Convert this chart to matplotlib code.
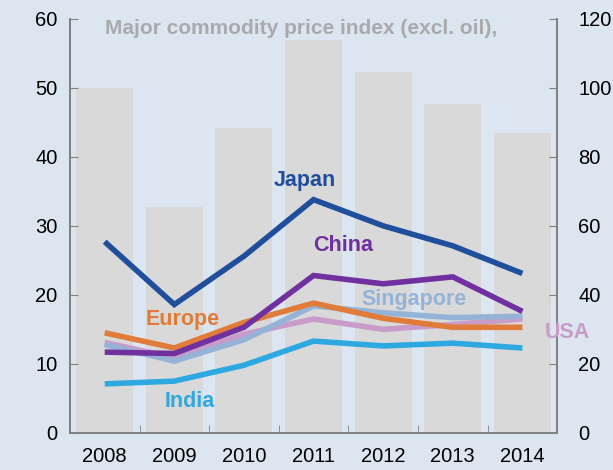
import numpy as np
import matplotlib
matplotlib.use("Agg")
import matplotlib.pyplot as plt
plt.rcParams["font.family"] = ["Liberation Sans", "DejaVu Sans"]

years = ["2008", "2009", "2010", "2011", "2012", "2013", "2014"]
commodity_index = [100, 65.5, 88.4, 114, 104.6, 95.4, 87]   # right axis

japan = [27.7, 18.6, 25.6, 33.8, 30.0, 27.1, 23.1]
china = [11.7, 11.5, 15.3, 22.8, 21.6, 22.6, 17.6]
singapore = [12.8, 10.4, 13.5, 18.4, 17.4, 16.7, 16.9]
usa = [13.1, 10.9, 14.3, 16.5, 15.0, 15.7, 16.5]
europe = [14.5, 12.3, 16.0, 18.8, 16.6, 15.3, 15.3]
india = [7.1, 7.5, 9.8, 13.3, 12.6, 13.0, 12.3]

bg = "#dce6f0"
fig = plt.figure(figsize=(6.13, 4.70), dpi=100, facecolor=bg)
ax = fig.add_axes([0.114, 0.079, 0.795, 0.881])
ax.set_facecolor(bg)
ax2 = ax.twinx()

x = np.arange(len(years))
ax2.bar(x, commodity_index, width=0.82, color="#d9d9d9", zorder=1)
ax2.set_ylim(0, 120)
ax.set_zorder(ax2.get_zorder() + 1)
ax.patch.set_visible(False)

series = [
    (india, "#2ea8e0", "India", 1.22, 4.6),
    (usa, "#c99bcb", "USA", 6.65, 14.5),
    (singapore, "#95b3d7", "Singapore", 4.45, 19.3),
    (europe, "#e07b39", "Europe", 1.12, 16.5),
    (china, "#7030a0", "China", 3.42, 27.1),
    (japan, "#1f4e9c", "Japan", 2.87, 36.5),
]
for vals, col, name, lx, ly in series:
    ax.plot(x, vals, color=col, lw=4, solid_capstyle="butt", solid_joinstyle="miter")
    ax.text(lx, ly, name, color=col, fontsize=15.5, fontweight="bold",
            ha="center", va="center", clip_on=False)

ax.text(2.82, 58.6, "Major commodity price index (excl. oil),", color="#aaaaaa",
        fontsize=15, fontweight="bold", ha="center", va="center")

ax.set_xlim(-0.5, 6.5)
ax.set_ylim(0, 60)
ax.set_yticks(range(0, 61, 10))
ax2.set_yticks(range(0, 121, 20))
ax.set_xticks(x)
ax.set_xticklabels(years)
ax.set_xticks(np.arange(0.5, 6.5, 1), minor=True)

for a in (ax, ax2):
    for s in a.spines.values():
        s.set_color("#808080")
        s.set_linewidth(1.2)
    a.spines["top"].set_visible(False)
ax.tick_params(axis="y", direction="in", length=6, color="#808080", labelsize=14.5, pad=9)
ax2.tick_params(axis="y", direction="in", length=6, color="#808080", labelsize=14.5, pad=15)
ax.tick_params(axis="x", which="major", length=0, labelsize=14.5, pad=10)
ax.tick_params(axis="x", which="minor", direction="in", length=6, color="#808080")

fig.savefig("out.png", dpi=100, facecolor=bg)
